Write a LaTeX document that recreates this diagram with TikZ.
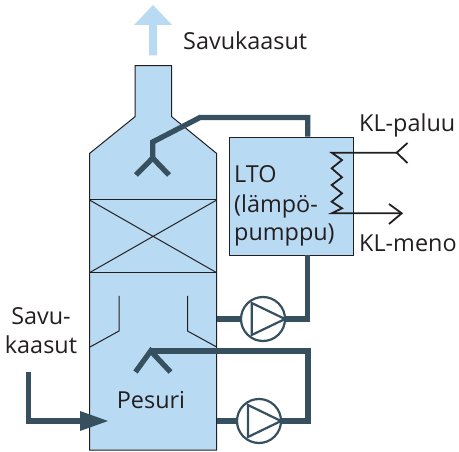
\documentclass[tikz,border=0pt]{standalone}
\usepackage{fontspec}
\setmainfont{Open Sans}
\usetikzlibrary{calc}
\definecolor{tower}{HTML}{B9DAF3}
\definecolor{pipe}{HTML}{36505F}
\definecolor{ink}{HTML}{231F20}
\tikzset{
  px/.style={x=1pt,y=-1pt},
  wall/.style={draw=ink,line width=1pt,fill=tower},
  thin line/.style={draw=ink,line width=1pt},
  pipeline/.style={draw=pipe,line width=5.3pt,line join=miter},
  pumpbody/.style={circle,draw=pipe,line width=2.2pt,fill=white,minimum size=44pt,inner sep=0pt},
  pumptri/.style={draw=pipe,line width=2.2pt,line join=miter},
  coolant/.style={draw=ink,line width=1.8pt},
  lab/.style={text=ink,font=\fontsize{23.4}{27}\selectfont,inner sep=0pt},
}
\begin{document}
\begin{tikzpicture}[px]
\useasboundingbox (0,0) rectangle (459,452);
% exhaust arrow
\fill[tower] (153,5) -- (172,25) -- (157,25) -- (157,55.5) -- (149,55.5) -- (149,25) -- (134,25) -- cycle;
% tower
\path[wall] (135,65.7) -- (171.7,65.7) -- (171.7,116.7) -- (216.7,153.5) -- (216.7,450) -- (89.5,450) -- (89.5,153.5) -- (135,116.7) -- cycle;
\draw[thin line] (89.5,200) -- (216.7,200) (89.5,272.7) -- (216.7,272.7);
\draw[thin line] (89.5,200) -- (216.7,272.7) (216.7,200) -- (89.5,272.7);
\draw[thin line] (119,296) -- (119,331) -- (90,347);
\draw[thin line] (187.5,296) -- (187.5,331) -- (216.7,347);
% LTO box
\node[wall,rectangle,minimum width=123.7pt,minimum height=118.6pt,anchor=north west,inner sep=0pt] (lto) at (229,136.7) {};
% upper circuit
\coordinate (sprayA) at (152.7,158);
\coordinate (ltoTop) at (307.7,136.7);
\draw[pipeline] (ltoTop) -- (307.7,117.5) -- (200,117.5) -- (152.7,142) -- (sprayA);
\draw[pipeline] (136,175) -- (sprayA) -- (169,175);
\node[pumpbody] (pump1) at (263,319) {};
\coordinate (ltoBottom) at (307.7,255.3);
\coordinate (towerA) at (216.7,319);
\draw[pipeline] (towerA) -- (pump1.west);
\draw[pipeline] (pump1.east) -- (307.7,319) -- (ltoBottom);
\draw[pumptri] (251.7,303) -- (285,319) -- (251.7,335) -- cycle;
% lower circuit
\node[pumpbody] (pump2) at (259,421) {};
\coordinate (towerB) at (216.7,421);
\coordinate (sprayB) at (150.7,351);
\draw[pipeline] (towerB) -- (pump2.west);
\draw[pipeline] (pump2.east) -- (308,421) -- (308,351) -- (sprayB);
\draw[pipeline] (135.5,372) -- (sprayB) -- (170.5,372);
\draw[pumptri] (248,405) -- (281,421) -- (248,437) -- cycle;
% inlet
\coordinate (inletStart) at (28.7,372);
\draw[pipeline] (inletStart) -- (28.7,421) -- (82,421);
\fill[pipe] (80,411) -- (108,421) -- (80,431) -- cycle;
% coolant coil
\draw[coolant,line join=miter] (396.7,152.7) -- (331.7,152.7) -- (342,160) -- (331.7,168.3) -- (342,177.3) -- (331.7,185) -- (342,193.3) -- (331.7,201.7) -- (342,208.3) -- (331.7,213.3) -- (401.7,213.3);
\draw[coolant] (407.5,143) -- (396.7,152.7) -- (407.5,163);
\draw[coolant] (389,204) -- (401.7,213.3) -- (389,224);
% labels
\node[lab,anchor=base west] (t1) at (183,50) {Savukaasut};
\node[lab,anchor=base west] (t2) at (359,132) {KL-paluu};
\node[lab,anchor=base west] (t3) at (359,252) {KL-meno};
\node[lab,anchor=base west] (t4) at (234,183) {LTO};
\node[lab,anchor=base west] (t5) at (234,212.5) {(lämpö-};
\node[lab,anchor=base west] (t6) at (234,240.5) {pumppu)};
\node[lab,anchor=base] (t7) at (41,324) {Savu-};
\node[lab,anchor=base] (t8) at (41,353) {kaasut};
\node[lab,anchor=base] (t9) at (151,409) {Pesuri};
\end{tikzpicture}
\end{document}
